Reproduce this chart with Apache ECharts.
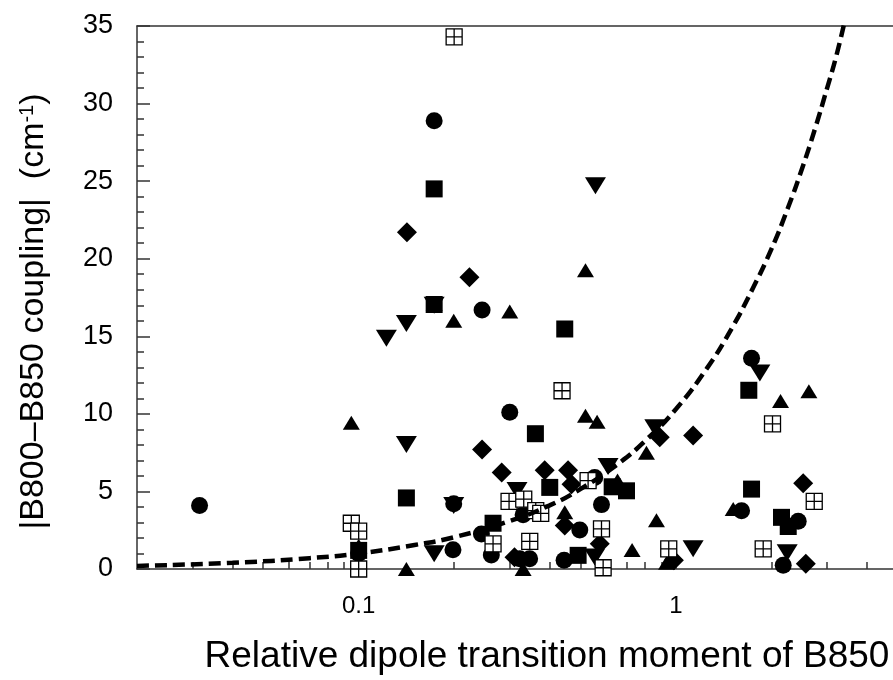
<!DOCTYPE html>
<html>
<head>
<meta charset="utf-8">
<script src="https://cdn.jsdelivr.net/npm/echarts@6/dist/echarts.min.js"></script>
<style>
html, body { margin: 0; padding: 0; background: #fff; }
#chart { width: 893px; height: 680px; }
</style>
</head>
<body>
<div id="chart"></div>
<script>
// x = relative dipole transition moment of B850, y = |B800-B850 coupling| (cm-1)

var circleX = [0.0315, 0.173, 0.245, 0.2995, 0.1994, 0.1983, 0.1, 0.2438, 0.262, 0.33, 0.322, 0.346, 0.4444, 0.498, 0.555, 0.583, 1.733, 1.612, 2.432, 2.181];
var circleY = [4.1, 28.9, 16.7, 10.1, 4.2, 1.24, 1.0, 2.26, 0.9, 3.5, 0.66, 0.66, 0.56, 2.52, 5.9, 4.15, 13.59, 3.76, 3.08, 0.24];

var squareX = [0.173, 0.173, 0.4465, 0.3608, 0.1414, 0.4004, 0.2653, 0.1, 0.492, 0.699, 0.63, 1.699, 1.733, 2.154, 2.262];
var squareY = [24.5, 17.05, 15.47, 8.72, 4.58, 5.26, 2.95, 1.2, 0.88, 5.04, 5.3, 11.52, 5.15, 3.33, 2.74];

var diamondX = [0.142, 0.2235, 0.245, 0.2825, 0.386, 0.4573, 0.469, 0.4465, 0.5757, 0.31, 0.89, 1.134, 0.986, 2.522, 2.57];
var diamondY = [21.7, 18.8, 7.71, 6.22, 6.37, 6.37, 5.47, 2.8, 1.62, 0.75, 8.5, 8.61, 0.56, 5.53, 0.34];

var triUpX = [0.0948, 0.1994, 0.2995, 0.173, 0.519, 0.519, 0.5647, 0.808, 0.4465, 0.869, 0.728, 0.1, 0.1414, 0.33, 0.935, 0.655, 1.517, 2.139, 2.628];
var triUpY = [9.42, 16.0, 16.6, 17.1, 19.25, 9.87, 9.49, 7.5, 3.65, 3.14, 1.22, 1.5, 0, 0, 0.4, 5.7, 3.87, 10.83, 11.45];

var triDownX = [0.558, 0.1414, 0.1223, 0.173, 0.1414, 0.8587, 0.6115, 0.3157, 0.1994, 0.173, 0.555, 1.134, 1.841, 2.245];
var triDownY = [24.7, 15.83, 14.87, 17.0, 8.03, 9.1, 6.6, 5.06, 4.1, 0.98, 0.77, 1.3, 12.63, 1.04];

var openSqX = [0.2, 0.4378, 0.0948, 0.1, 0.1, 0.298, 0.3315, 0.3617, 0.375, 0.2653, 0.3463, 0.529, 0.583, 0.59, 0.95, 2.018, 2.732, 1.886];
var openSqY = [34.3, 11.49, 2.95, 2.44, 0, 4.36, 4.5, 3.76, 3.59, 1.62, 1.78, 5.69, 2.58, 0.08, 1.3, 9.36, 4.36, 1.3];

// dashed curve
var curveX = [0.02, 0.04, 0.07, 0.1, 0.15, 0.2, 0.3, 0.4, 0.5, 0.65, 0.8, 1, 1.25, 1.5, 1.75, 2, 2.25, 2.5, 2.75, 3, 3.2, 3.4];
var curveY = [0.2, 0.4, 0.7, 1.0, 1.55, 2.05, 3.1, 4.1, 5.15, 6.7, 8.25, 10.3, 12.9, 15.5, 18.1, 20.6, 23.2, 25.8, 28.4, 31, 33, 35.2];

// axis ticks
var xMin = 0.02, xMax = 4.84;
var xMajorTicks = [0.1, 1];
var xMinorTicks = [0.03, 0.04, 0.05, 0.06, 0.07, 0.08, 0.09, 0.2, 0.3, 0.4, 0.5, 0.6, 0.7, 0.8, 0.9, 2, 3, 4];

function pairs(xs, ys) {
    return xs.map(function (x, i) { return [x, ys[i]]; });
}

var font = '"Liberation Sans", Arial, Helvetica, sans-serif';
var axisColor = '#333';

function scatter(name, data, symbol, size, extra) {
    var s = {
        name: name,
        type: 'scatter',
        data: data,
        symbol: symbol,
        symbolSize: size,
        clip: false,
        itemStyle: { color: '#000', opacity: 1 },
        emphasis: { disabled: true }
    };
    for (var k in extra) s[k] = extra[k];
    return s;
}

var chart = echarts.init(document.getElementById('chart'));

var option = {
    animation: false,
    backgroundColor: '#fff',
    textStyle: { fontFamily: font },
    grid: { left: 137, right: 0, top: 26, bottom: 108 },
    xAxis: [{
        type: 'log',
        logBase: 10,
        min: xMin,
        max: xMax,
        position: 'bottom',
        axisLine: { lineStyle: { color: axisColor, width: 1.5 } },
        axisTick: { inside: true, length: 13, customValues: xMajorTicks, lineStyle: { color: axisColor, width: 1.5 } },
        axisLabel: {
            customValues: xMajorTicks,
            fontSize: 24,
            margin: 25,
            color: '#000',
            fontFamily: font,
            formatter: function (v) { return String(+(+v).toPrecision(3)); }
        },
        splitLine: { show: false },
        name: 'Relative dipole transition moment of B850',
        nameLocation: 'middle',
        nameGap: 69,
        nameTextStyle: { fontSize: 37, color: '#000', fontFamily: font, padding: [0, 0, 0, 64] }
    }, {
        type: 'log',
        logBase: 10,
        min: xMin,
        max: xMax,
        position: 'bottom',
        axisLine: { show: false },
        axisTick: { inside: true, length: 7, customValues: xMinorTicks, lineStyle: { color: axisColor, width: 1.5 } },
        axisLabel: { show: false },
        splitLine: { show: false }
    }, {
        type: 'log',
        logBase: 10,
        min: xMin,
        max: xMax,
        position: 'top',
        axisLine: { lineStyle: { color: axisColor, width: 1.5 } },
        axisTick: { show: false },
        axisLabel: { show: false },
        splitLine: { show: false }
    }],
    yAxis: {
        type: 'value',
        min: 0,
        max: 35,
        interval: 5,
        axisLine: { show: true, lineStyle: { color: axisColor, width: 1.5 } },
        axisTick: { inside: true, length: 13, lineStyle: { color: axisColor, width: 1.5 } },
        minorTick: { show: true, splitNumber: 5, length: 7, lineStyle: { color: axisColor, width: 1.5 } },
        axisLabel: { fontSize: 27, margin: 24, color: '#000', fontFamily: font },
        splitLine: { show: false },
        name: '|B800\u2013B850 coupling|  (cm{s|-1})',
        nameLocation: 'middle',
        nameGap: 86,
        nameTextStyle: {
            fontSize: 34,
            color: '#000',
            fontFamily: font,
            padding: [0, 28, 0, 0],
            rich: {
                s: { fontSize: 20, color: '#000', fontFamily: font, verticalAlign: 'top', lineHeight: 20 }
            }
        }
    },
    series: [
        scatter('circle', pairs(circleX, circleY), 'circle', 17),
        scatter('square', pairs(squareX, squareY), 'rect', 17),
        scatter('diamond', pairs(diamondX, diamondY), 'diamond', 20),
        scatter('triangle up', pairs(triUpX, triUpY), 'triangle', [17, 14]),
        scatter('triangle down', pairs(triDownX, triDownY), 'triangle', [21, 17], { symbolRotate: 180 }),
        scatter('open square', pairs(openSqX, openSqY), 'path://M0,0L10,0L10,10L0,10Z M5,0L5,10 M0,5L10,5', 16, {
            itemStyle: { color: '#fff', borderColor: '#000', borderWidth: 1.3, opacity: 1 }
        }),
        {
            name: 'fit',
            type: 'line',
            data: pairs(curveX, curveY),
            smooth: true,
            showSymbol: false,
            symbol: 'none',
            lineStyle: { color: '#000', width: 4.5, type: [12, 6] },
            emphasis: { disabled: true },
            z: 5
        }
    ]
};

chart.setOption(option);
</script>
</body>
</html>
